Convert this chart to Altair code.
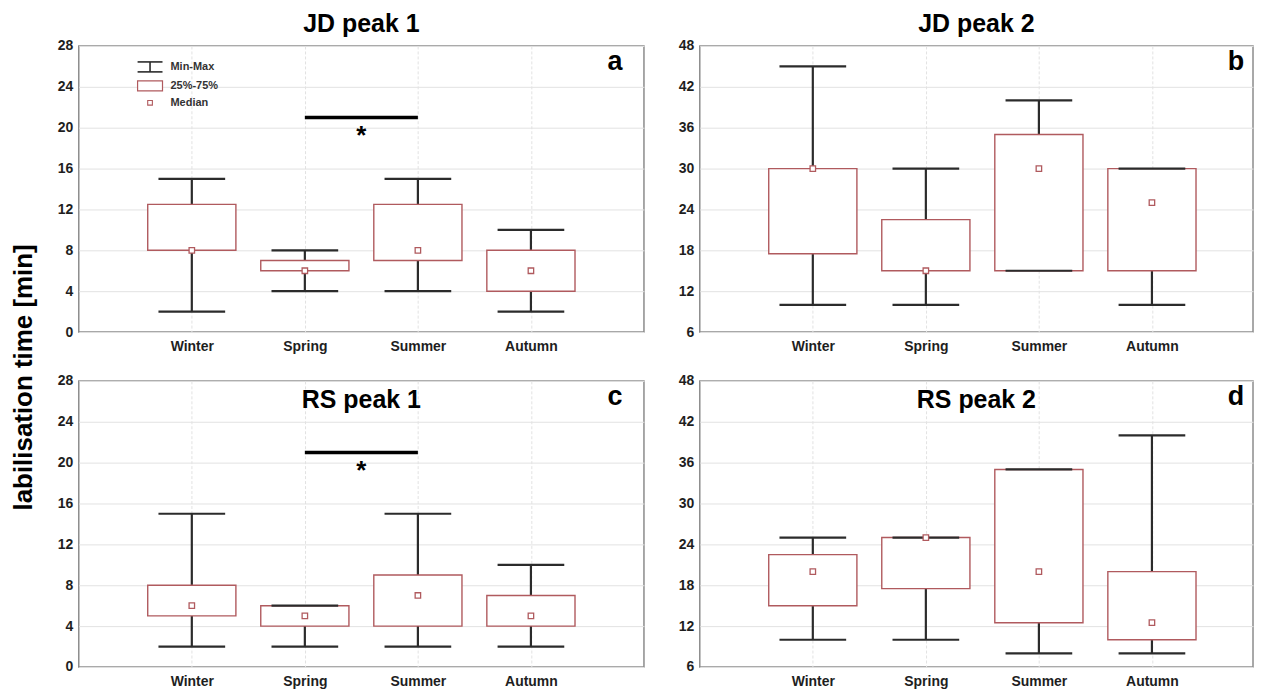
import altair as alt
import pandas as pd

# ---------------- data ----------------
seasons = ["Winter", "Spring", "Summer", "Autumn"]
season_pos = [1, 2, 3, 4]

# a: JD peak 1
jd1_min = [2, 4, 4, 2]
jd1_q1 = [8, 6, 7, 4]
jd1_med = [8, 6, 8, 6]
jd1_q3 = [12.5, 7, 12.5, 8]
jd1_max = [15, 8, 15, 10]

# b: JD peak 2
jd2_min = [10, 10, 15, 10]
jd2_q1 = [17.5, 15, 15, 15]
jd2_med = [30, 15, 30, 25]
jd2_q3 = [30, 22.5, 35, 30]
jd2_max = [45, 30, 40, 30]

# c: RS peak 1
rs1_min = [2, 2, 2, 2]
rs1_q1 = [5, 4, 4, 4]
rs1_med = [6, 5, 7, 5]
rs1_q3 = [8, 6, 9, 7]
rs1_max = [15, 6, 15, 10]

# d: RS peak 2
rs2_min = [10, 10, 8, 8]
rs2_q1 = [15, 17.5, 12.5, 10]
rs2_med = [20, 25, 20, 12.5]
rs2_q3 = [22.5, 25, 35, 20]
rs2_max = [25, 25, 35, 40]

y_ticks_peak1 = [0, 4, 8, 12, 16, 20, 24, 28]
y_ticks_peak2 = [6, 12, 18, 24, 30, 36, 42, 48]

panel_titles = ["JD peak 1", "JD peak 2", "RS peak 1", "RS peak 2"]
panel_letters = ["a", "b", "c", "d"]

# significance bar (Spring vs Summer) in panels a and c
sig_from = [2]
sig_to = [3]
sig_y = [21]
sig_label = ["*"]

legend_labels = ["Min-Max", "25%-75%", "Median"]
y_axis_title = "labilisation time [min]"

# ---------------- style ----------------
BOX_C = "#b05a5e"
WHISK_C = "#2b2b2b"
GRID_C = "#e2e2e2"
BOX_HALF = 0.39
CAP_HALF = 0.295
UNIT_PX = 113.4
PH = 287
W_LEFT = 567
W_RIGHT = 555
LABEL_FONT = "Liberation Sans"
TITLE_FONT = "Liberation Sans"

label_expr = "[''," + ",".join("'%s'" % s for s in seasons) + "][datum.value]"


def make_panel(mins, q1s, meds, q3s, maxs, yticks, width, title, letter,
               title_inside, with_sig, with_legend):
    df = pd.DataFrame({"season": seasons, "pos": season_pos, "lo": mins,
                       "q1": q1s, "med": meds, "q3": q3s, "hi": maxs})
    df["bl"] = df["pos"] - BOX_HALF
    df["br"] = df["pos"] + BOX_HALF
    df["cl"] = df["pos"] - CAP_HALF
    df["cr"] = df["pos"] + CAP_HALF

    xs = alt.Scale(domain=[0, width / UNIT_PX], nice=False, zero=False)
    ys = alt.Scale(domain=[yticks[0], yticks[-1]], nice=False, zero=False)
    xaxis = alt.Axis(values=season_pos, labelExpr=label_expr, title=None,
                     grid=True, gridColor=GRID_C, gridDash=[3, 2], ticks=False,
                     domain=False, labelFont=LABEL_FONT, labelFontSize=14,
                     labelFontWeight="bold", labelColor="#1e1e1e", labelPadding=8)
    yaxis = alt.Axis(values=yticks, title=None, grid=True, gridColor=GRID_C,
                     ticks=False, domain=False, labelFont=LABEL_FONT,
                     labelFontSize=14, labelFontWeight="bold",
                     labelColor="#1e1e1e", labelPadding=6)

    def X(f):
        return alt.X(f, type="quantitative", scale=xs, axis=xaxis)

    def Y(f):
        return alt.Y(f, type="quantitative", scale=ys, axis=yaxis)

    base = alt.Chart(df)
    whisk = base.mark_rule(color=WHISK_C, strokeWidth=2.2).encode(
        x=X("pos"), y=Y("lo"), y2="hi")
    box = base.mark_rect(fill="white", stroke=BOX_C, strokeWidth=1.4).encode(
        x=X("bl"), x2="br", y=Y("q1"), y2="q3")
    cap_lo = base.mark_rule(color=WHISK_C, strokeWidth=2.2).encode(
        x=X("cl"), x2="cr", y=Y("lo"))
    cap_hi = base.mark_rule(color=WHISK_C, strokeWidth=2.2).encode(
        x=X("cl"), x2="cr", y=Y("hi"))
    med = base.mark_square(size=30, fill="white", stroke=BOX_C, strokeWidth=1.3,
                           opacity=1).encode(x=X("pos"), y=Y("med"))
    layers = [whisk, box, cap_lo, cap_hi, med]

    tdf = pd.DataFrame({"t": [title]})
    title_y = 19 if title_inside else -22
    layers.append(alt.Chart(tdf).mark_text(
        font=TITLE_FONT, fontSize=25, fontWeight="bold", color="black",
        baseline="middle", align="center").encode(
        text="t:N", x=alt.value(width / 2), y=alt.value(title_y)))

    ldf = pd.DataFrame({"t": [letter]})
    layers.append(alt.Chart(ldf).mark_text(
        font=TITLE_FONT, fontSize=27, fontWeight="bold", color="black",
        baseline="middle", align="center").encode(
        text="t:N", x=alt.value(538), y=alt.value(16)))

    if with_sig:
        sdf = pd.DataFrame({"x1": sig_from, "x2": sig_to, "y": sig_y,
                            "lab": sig_label})
        sdf["xm"] = (sdf["x1"] + sdf["x2"]) / 2
        layers.append(alt.Chart(sdf).mark_rule(color="black", strokeWidth=3.5)
                      .encode(x=X("x1"), x2="x2", y=Y("y")))
        layers.append(alt.Chart(sdf).mark_text(
            font=LABEL_FONT, fontSize=26, fontWeight="bold", color="black",
            baseline="alphabetic", align="center", dy=27).encode(
            x=X("xm"), y=Y("y"), text="lab:N"))

    if with_legend:
        one = pd.DataFrame({"k": [0]})
        lc = alt.Chart(one)
        layers.append(lc.mark_rule(color=WHISK_C, strokeWidth=1.6).encode(
            x=alt.value(71.5), y=alt.value(16), y2=alt.value(26)))
        layers.append(lc.mark_rule(color=WHISK_C, strokeWidth=1.6).encode(
            x=alt.value(59), x2=alt.value(84), y=alt.value(16)))
        layers.append(lc.mark_rule(color=WHISK_C, strokeWidth=1.6).encode(
            x=alt.value(59), x2=alt.value(84), y=alt.value(26)))
        layers.append(lc.mark_rect(fill="white", stroke=BOX_C, strokeWidth=1.2)
                      .encode(x=alt.value(59), x2=alt.value(84),
                              y=alt.value(35), y2=alt.value(45)))
        layers.append(lc.mark_square(size=22, fill="white", stroke=BOX_C,
                                     strokeWidth=1.1, opacity=1).encode(
            x=alt.value(71.5), y=alt.value(57)))
        for i, lab in enumerate(legend_labels):
            layers.append(alt.Chart(pd.DataFrame({"t": [lab]})).mark_text(
                font=LABEL_FONT, fontSize=11, fontWeight="bold", color="#333333",
                baseline="middle", align="left").encode(
                text="t:N", x=alt.value(92), y=alt.value([21, 40, 57][i])))

    return alt.layer(*layers).properties(width=width, height=PH)


pa = make_panel(jd1_min, jd1_q1, jd1_med, jd1_q3, jd1_max, y_ticks_peak1, W_LEFT,
                panel_titles[0], panel_letters[0], False, True, True)
pb = make_panel(jd2_min, jd2_q1, jd2_med, jd2_q3, jd2_max, y_ticks_peak2, W_RIGHT,
                panel_titles[1], panel_letters[1], False, False, False)
pc = make_panel(rs1_min, rs1_q1, rs1_med, rs1_q3, rs1_max, y_ticks_peak1, W_LEFT,
                panel_titles[2], panel_letters[2], True, True, False)
pd_ = make_panel(rs2_min, rs2_q1, rs2_med, rs2_q3, rs2_max, y_ticks_peak2, W_RIGHT,
                 panel_titles[3], panel_letters[3], True, False, False)

top = alt.hconcat(pa, pb, spacing=32)
bottom = alt.hconcat(pc, pd_, spacing=32)

chart = alt.vconcat(top, bottom, spacing=18).properties(
    title=alt.TitleParams(y_axis_title, orient="left", anchor="middle",
                          font=TITLE_FONT, fontSize=26, fontWeight="bold",
                          color="black", offset=20, dx=-27),
    padding={"left": 2, "top": 2, "right": 0, "bottom": 0},
    background="white",
).configure_view(stroke="#8c8c8c", strokeWidth=1.5)

chart.save("out.html", embed_options={"renderer": "svg", "actions": False})
